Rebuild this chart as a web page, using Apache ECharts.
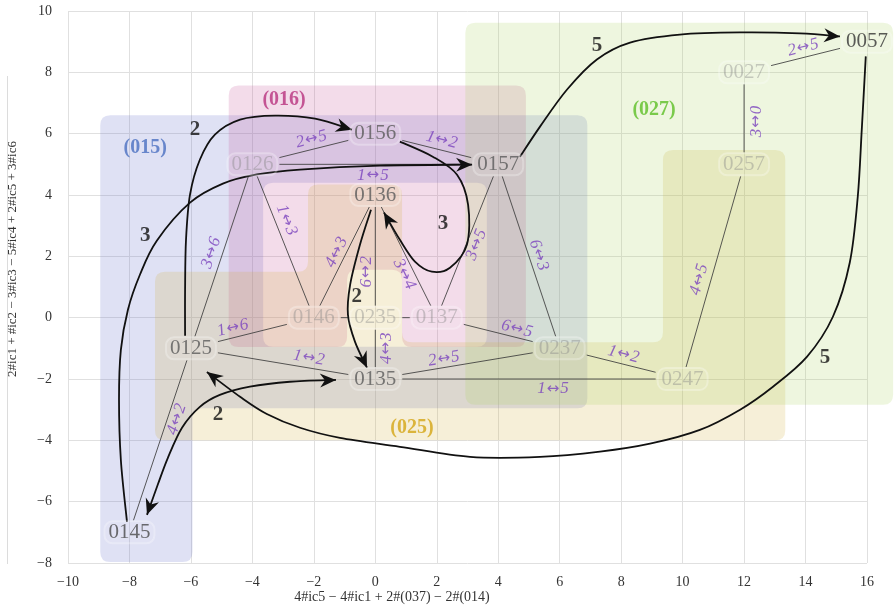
<!DOCTYPE html>
<html>
<head>
<meta charset="utf-8">
<script src="https://cdn.jsdelivr.net/npm/echarts@6/dist/echarts.min.js"></script>
<style>
  html, body { margin: 0; padding: 0; background: #fff; }
  #chart { width: 894px; height: 609px; }
</style>
</head>
<body>
<div id="chart"></div>
<script>
// ---- vertices of the lattice: chord names and their coordinates ----
const nodeNames = ['0145', '0125', '0126', '0156', '0157', '0136', '0146', '0235', '0137', '0237', '0135', '0247', '0257', '0027', '0057'];
const nodeX     = [-8, -6, -4, 0, 4, 0, -2, 0, 2, 6, 0, 10, 12, 12, 16];
const nodeY     = [-7, -1, 5, 6, 5, 4, 0, 0, 0, -1, -2, -2, 5, 8, 9];
// 0 = faded, 1 = normal, 2 = strong, 3 = strongest
const nodeTone  = [2, 1, 0, 1, 1, 1, 0, 0, 0, 0, 1, 0, 0, 0, 3];

// ---- edges (text reads from the first vertex towards the second) ----
const edgeFrom = ['0126', '0156', '0126', '0126', '0125', '0146', '0235', '0136', '0137', '0157', '0125', '0125', '0145', '0135', '0137', '0135', '0135', '0237', '0247', '0257', '0027', '0146', '0235'];
const edgeTo   = ['0156', '0157', '0157', '0146', '0126', '0136', '0136', '0137', '0157', '0237', '0146', '0135', '0125', '0235', '0237', '0237', '0247', '0247', '0257', '0027', '0057', '0235', '0137'];
const edgeText = ['2↔5', '1↔2', '1↔5', '1↔3', '3↔6', '4↔3', '6↔2', '3↔4', '3↔5', '6↔3', '1↔6', '1↔2', '4↔2', '4↔3', '6↔5', '2↔5', '1↔5', '1↔2', '4↔5', '3↔0', '2↔5', '', ''];

// placement of each edge label: fraction along the edge, and side offset (px)
const edgeLabelT   = [0.5, 0.52, 0.49, 0.39, 0.5, 0.5, 0.375, 0.61, 0.5, 0.51, 0.36, 0.63, 0.63, 0.5, 0.635, 0.38, 0.578, 0.5, 0.448, 0.465, 0.5, 0.5, 0.5];
const edgeLabelOff = [10, 10, -11, 11, 11, 9, 9, -9.6, -9.6, 9.7, 9.7, 10, -9, -11, 8.6, 8.7, -10, 9.6, 11.6, -12, 9.8, 0, 0];

// ---- shaded families (outlines in axis units; extra rings are holes) ----
const regionNames  = ['(015)', '(016)', '(025)', '(027)'];
const regionColors = ['rgba(95,105,200,0.2)', 'rgba(195,80,150,0.2)', 'rgba(210,175,60,0.2)', 'rgba(170,210,95,0.2)'];
const regionTextColors = ['#4a6fc1', '#b8327e', '#d4a514', '#5cbf26'];
const region015 = [
  [[-8.95, 6.6], [6.9, 6.6], [6.9, -2.95], [-5.95, -2.95], [-5.95, -7.97], [-8.95, -7.97]],
  [[-3.65, 4.4], [3.63, 4.4], [3.63, -0.95], [-3.65, -0.95]]
];
const region016 = [
  [[-4.77, 7.57], [4.9, 7.57], [4.9, -0.96], [0.87, -0.96], [0.87, 1.56], [-0.92, 1.56], [-0.92, -0.96], [-4.77, -0.96]]
];
const region025 = [
  [[-2.19, 4.34], [0.87, 4.34], [0.87, -0.8], [9.36, -0.8], [9.36, 5.47], [13.34, 5.47], [13.34, -4.0], [-7.17, -4.0], [-7.17, 1.5], [-2.19, 1.5]]
];
const region027 = [
  [[2.93, 9.62], [16.85, 9.62], [16.85, -2.84], [2.93, -2.84]]
];
const regionShapes = [region015, region016, region025, region027];
const regionTagAt = [[-7.49, 5.55], [-2.97, 7.11], [1.19, -3.59], [9.07, 6.78]];

// ---- voice-leading flows (curves through axis-unit waypoints) ----
const flowWeights = ['2', '3', '3', '2', '2', '5', '5'];
const flowBothEnds = [false, false, false, false, true, false, false];
const flowA = [[-6.19, -0.59], [-6.19, 0.91], [-6.16, 2.54], [-6.03, 4.01], [-5.71, 5.15], [-5.22, 5.97], [-4.40, 6.46], [-3.26, 6.59], [-1.96, 6.49], [-0.76, 6.13]];
const flowB = [[-8.08, -6.66], [-8.28, -4.64], [-8.34, -2.68], [-8.28, -1.05], [-8.05, 0.26], [-7.66, 1.40], [-7.11, 2.51], [-6.03, 3.75], [-4.96, 4.37], [-3.85, 4.67], [-2.45, 4.83], [0.15, 4.96], [3.15, 4.99]];
const flowC = [[0.80, 5.74], [1.87, 5.25], [2.66, 4.66], [3.02, 3.68], [2.98, 2.38], [2.43, 1.63], [1.84, 1.50], [1.29, 1.83], [0.80, 2.54], [0.28, 3.43]];
const flowD = [[-0.14, 3.52], [-0.50, 2.38], [-0.82, 1.07], [-0.89, 0.09], [-0.66, -0.79], [-0.27, -1.63]];
const flowE = [[-7.43, -6.43], [-7.08, -5.45], [-6.75, -4.57], [-6.29, -3.59], [-5.71, -2.91], [-5.06, -2.52], [-4.08, -2.25], [-2.78, -2.09], [-1.28, -2.03]];
const flowF = [[4.71, 5.25], [5.36, 6.23], [6.24, 7.44], [7.21, 8.42], [8.29, 8.97], [9.91, 9.23], [11.87, 9.30], [13.82, 9.27], [15.12, 9.17]];
const flowG = [[15.96, 8.52], [15.83, 6.14], [15.70, 3.95], [15.44, 1.80], [14.89, 0.03], [14.05, -1.27], [12.94, -2.25], [11.87, -3.00], [10.56, -3.66], [8.94, -4.11], [7.31, -4.37], [5.36, -4.54], [3.08, -4.54], [0.80, -4.21], [-1.15, -3.92], [-2.45, -3.59], [-3.53, -3.14], [-4.40, -2.58], [-5.48, -1.77]];
const flowPaths = [flowA, flowB, flowC, flowD, flowE, flowF, flowG];
const flowTagAt = [[-5.87, 6.13], [-7.49, 2.67], [2.20, 3.06], [-0.60, 0.68], [-5.12, -3.17], [7.21, 8.87], [14.63, -1.31]];

// ---- axes ----
const xTicks = { min: -10, max: 16, step: 2 };
const yTicks = { min: -8, max: 10, step: 2 };
const xTitle = '4#ic5 − 4#ic1 + 2#(037) − 2#(014)';
const yTitle = '2#ic1 + #ic2 − 3#ic3 − 5#ic4 + 2#ic5 + 3#ic6';

const SERIF = "'Liberation Serif', 'DejaVu Serif', serif";
const idx = {};
nodeNames.forEach((n, i) => { idx[n] = i; });

function roundedRing(pts, r) {
  const n = pts.length;
  let d = '';
  for (let i = 0; i < n; i++) {
    const p = pts[i], a = pts[(i - 1 + n) % n], b = pts[(i + 1) % n];
    const la = Math.hypot(a[0] - p[0], a[1] - p[1]);
    const lb = Math.hypot(b[0] - p[0], b[1] - p[1]);
    const ra = Math.min(r, la / 2), rb = Math.min(r, lb / 2);
    const s = [p[0] + (a[0] - p[0]) / la * ra, p[1] + (a[1] - p[1]) / la * ra];
    const e = [p[0] + (b[0] - p[0]) / lb * rb, p[1] + (b[1] - p[1]) / lb * rb];
    d += (i === 0 ? 'M' : 'L') + s[0].toFixed(2) + ' ' + s[1].toFixed(2) +
      'Q' + p[0].toFixed(2) + ' ' + p[1].toFixed(2) + ' ' + e[0].toFixed(2) + ' ' + e[1].toFixed(2);
  }
  return d + 'Z';
}
function signedArea(pts) {
  let s = 0;
  for (let i = 0; i < pts.length; i++) {
    const p = pts[i], q = pts[(i + 1) % pts.length];
    s += p[0] * q[1] - q[0] * p[1];
  }
  return s;
}
function smoothPath(pts) {
  let d = 'M' + pts[0][0].toFixed(2) + ' ' + pts[0][1].toFixed(2);
  for (let i = 0; i < pts.length - 1; i++) {
    const p0 = pts[Math.max(i - 1, 0)], p1 = pts[i], p2 = pts[i + 1], p3 = pts[Math.min(i + 2, pts.length - 1)];
    const c1 = [p1[0] + (p2[0] - p0[0]) / 6, p1[1] + (p2[1] - p0[1]) / 6];
    const c2 = [p2[0] - (p3[0] - p1[0]) / 6, p2[1] - (p3[1] - p1[1]) / 6];
    d += 'C' + c1[0].toFixed(2) + ' ' + c1[1].toFixed(2) + ' ' + c2[0].toFixed(2) + ' ' + c2[1].toFixed(2) + ' ' + p2[0].toFixed(2) + ' ' + p2[1].toFixed(2);
  }
  return d;
}
function arrowHead(tip, from) {
  const dx = tip[0] - from[0], dy = tip[1] - from[1];
  const L = Math.hypot(dx, dy) || 1;
  const ux = dx / L, uy = dy / L, nx = -uy, ny = ux;
  const len = 16, w = 7, notch = 11;
  return [
    tip,
    [tip[0] - ux * len + nx * w, tip[1] - uy * len + ny * w],
    [tip[0] - ux * notch, tip[1] - uy * notch],
    [tip[0] - ux * len - nx * w, tip[1] - uy * len - ny * w]
  ];
}
// interval label as rich text: italic digits around a thin two-headed arrow
function intervalRich(label) {
  const parts = label.split('↔');
  return '{d|' + parts[0] + '}{a|↔}{d|' + parts[1] + '}';
}

const chart = echarts.init(document.getElementById('chart'));

const minusFmt = v => String(v).replace('-', '−');
const hidden = { color: 'rgba(0,0,0,0)' };
const labelPurple = 'rgba(125,70,190,0.82)';

const option = {
  backgroundColor: '#ffffff',
  animation: false,
  grid: { left: 68, right: 27, top: 11, bottom: 46 },
  xAxis: {
    type: 'value', min: xTicks.min, max: xTicks.max, interval: xTicks.step,
    axisLine: { show: false }, axisTick: { show: false },
    splitLine: { show: true, lineStyle: { color: '#e0e0e0', width: 1 } },
    axisLabel: { color: '#333', fontFamily: SERIF, fontSize: 14, margin: 12, formatter: minusFmt }
  },
  yAxis: {
    type: 'value', min: yTicks.min, max: yTicks.max, interval: yTicks.step,
    axisLine: { show: false }, axisTick: { show: false },
    splitLine: { show: true, lineStyle: { color: '#e0e0e0', width: 1 } },
    axisLabel: { color: '#333', fontFamily: SERIF, fontSize: 14, margin: 16, formatter: minusFmt }
  },
  graphic: [
    { type: 'line', shape: { x1: 7.5, y1: 76, x2: 7.5, y2: 564 }, style: { stroke: '#dcdcdc', lineWidth: 1 }, silent: true },
    { type: 'text', x: 392, y: 597, style: { text: xTitle, fill: '#333', font: '14px ' + SERIF, align: 'center', verticalAlign: 'middle' }, silent: true },
    { type: 'text', x: 13, y: 259, rotation: Math.PI / 2, style: { text: yTitle, fill: '#333', font: '13px ' + SERIF, align: 'center', verticalAlign: 'middle' }, silent: true }
  ],
  series: [
    // shaded families
    {
      type: 'custom', z: 1, silent: true, clip: false,
      data: regionNames.map((_, i) => [i]),
      renderItem: (params, api) => {
        const rings = regionShapes[params.dataIndex];
        let d = '';
        let outerSign = 0;
        rings.forEach((ring, k) => {
          let px = ring.map(p => api.coord(p));
          const s = Math.sign(signedArea(px));
          if (k === 0) outerSign = s;
          else if (s === outerSign) px = px.slice().reverse();
          d += roundedRing(px, 10);
        });
        return {
          type: 'path', shape: { pathData: d },
          style: { fill: regionColors[params.dataIndex], stroke: null }
        };
      }
    },
    // edges with their interval labels
    {
      type: 'custom', z: 2, silent: true, clip: false,
      data: edgeFrom.map((_, i) => [i]),
      renderItem: (params, api) => {
        const i = params.dataIndex;
        const a = idx[edgeFrom[i]], b = idx[edgeTo[i]];
        const p = api.coord([nodeX[a], nodeY[a]]);
        const q = api.coord([nodeX[b], nodeY[b]]);
        const dx = q[0] - p[0], dy = q[1] - p[1];
        const hw = 27, hh = 12;
        const t0 = Math.min(dx !== 0 ? hw / Math.abs(dx) : Infinity, dy !== 0 ? hh / Math.abs(dy) : Infinity);
        const s = [p[0] + dx * t0, p[1] + dy * t0];
        const e = [q[0] - dx * t0, q[1] - dy * t0];
        const children = [{
          type: 'line', shape: { x1: s[0], y1: s[1], x2: e[0], y2: e[1] },
          style: { stroke: 'rgba(60,60,60,0.85)', lineWidth: 1 }
        }];
        if (edgeText[i]) {
          const L = Math.hypot(dx, dy);
          const ux = dx / L, uy = dy / L;
          const upx = uy, upy = -ux;
          const t = edgeLabelT[i], off = edgeLabelOff[i];
          children.push({
            type: 'text',
            x: p[0] + dx * t + upx * off,
            y: p[1] + dy * t + upy * off,
            rotation: -Math.atan2(dy, dx),
            style: {
              text: intervalRich(edgeText[i]),
              align: 'center', verticalAlign: 'middle',
              rich: {
                d: { fill: labelPurple, fontFamily: SERIF, fontStyle: 'italic', fontSize: 17 },
                a: { fill: labelPurple, fontFamily: "'DejaVu Sans', sans-serif", fontSize: 15, padding: [0, 1, 0, 1] }
              }
            }
          });
        }
        return { type: 'group', children };
      }
    },
    // flows
    {
      type: 'custom', z: 3, silent: true, clip: false,
      data: flowPaths.map((_, i) => [i]),
      renderItem: (params, api) => {
        const i = params.dataIndex;
        const px = flowPaths[i].map(p => api.coord(p));
        const children = [{
          type: 'path', shape: { pathData: smoothPath(px) },
          style: { fill: null, stroke: '#111', lineWidth: 1.8 }
        }];
        const n = px.length;
        children.push({ type: 'polygon', shape: { points: arrowHead(px[n - 1], px[n - 2]) }, style: { fill: '#111' } });
        if (flowBothEnds[i]) {
          children.push({ type: 'polygon', shape: { points: arrowHead(px[0], px[1]) }, style: { fill: '#111' } });
        }
        return { type: 'group', children };
      }
    },
    // vertices
    {
      type: 'scatter', z: 4, silent: true,
      symbolSize: 1, itemStyle: hidden,
      data: nodeNames.map((n, i) => ({
        name: n, value: [nodeX[i], nodeY[i]],
        label: {
          color: ['rgba(130,130,130,0.5)', '#5a5a5a', '#4a4a4a', '#333'][nodeTone[i]]
        }
      })),
      label: {
        show: true, position: 'inside', formatter: '{b}',
        fontFamily: SERIF, fontSize: 21, lineHeight: 22,
        backgroundColor: 'rgba(255,255,255,0.08)', borderColor: 'rgba(255,255,255,0.35)',
        borderWidth: 1, borderRadius: 8, padding: [0, 4, 0, 4]
      }
    },
    // family tags
    {
      type: 'scatter', z: 5, silent: true,
      symbolSize: 1, itemStyle: hidden,
      data: regionNames.map((n, i) => ({
        name: n, value: regionTagAt[i],
        label: { color: regionTextColors[i] }
      })),
      label: { show: true, position: 'inside', formatter: '{b}', fontFamily: SERIF, fontSize: 20, fontWeight: 'bold' }
    },
    // flow weights
    {
      type: 'scatter', z: 5, silent: true,
      symbolSize: 1, itemStyle: hidden,
      data: flowWeights.map((w, i) => ({ name: w, value: flowTagAt[i] })),
      label: { show: true, position: 'inside', formatter: '{b}', fontFamily: SERIF, fontSize: 21, fontWeight: 'bold', color: '#111' }
    }
  ]
};

chart.setOption(option);
</script>
</body>
</html>
